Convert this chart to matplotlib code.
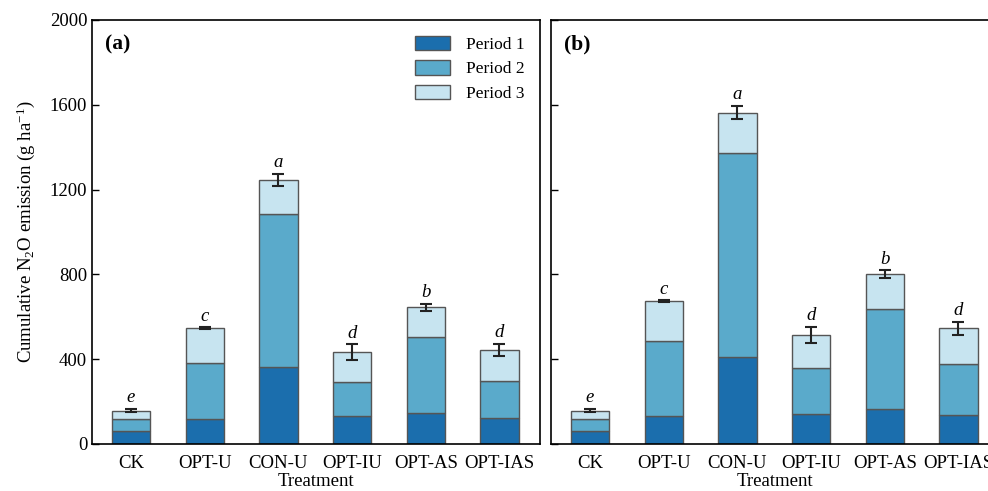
import numpy as np
import matplotlib
matplotlib.use("Agg")
import matplotlib.pyplot as plt

plt.rcParams['font.family'] = ['Liberation Serif', 'DejaVu Serif']
plt.rcParams['mathtext.fontset'] = 'custom'
plt.rcParams['mathtext.rm'] = 'Liberation Serif'
plt.rcParams['mathtext.it'] = 'Liberation Serif:italic'

treatments = ["CK", "OPT-U", "CON-U", "OPT-IU", "OPT-AS", "OPT-IAS"]
periods = ["Period 1", "Period 2", "Period 3"]
colors = ["#1b6ead", "#5aaacb", "#c7e4f0"]

# panel (a)
a_p1 = [60, 116, 365, 130, 146, 121]
a_p2 = [56, 264, 718, 162, 357, 176]
a_p3 = [41, 166, 162, 142, 142, 148]
a_err = [8, 5, 30, 37, 17, 28]
a_sig = ["e", "c", "a", "d", "b", "d"]

# panel (b)
b_p1 = [60, 130, 412, 143, 163, 137]
b_p2 = [56, 356, 961, 214, 475, 239]
b_p3 = [41, 188, 190, 157, 164, 170]
b_err = [8, 5, 32, 38, 17, 30]
b_sig = ["e", "c", "a", "d", "b", "d"]

fig = plt.figure(figsize=(9.88, 4.91), dpi=100)
W, H = 988, 491
axa = fig.add_axes([92 / W, 1 - 444 / H, 448 / W, 424 / H])
axb = fig.add_axes([551 / W, 1 - 444 / H, 448 / W, 424 / H])

x = np.arange(len(treatments))
fs = 13.5

for ax, p1, p2, p3, err, sig, tag in [
        (axa, a_p1, a_p2, a_p3, a_err, a_sig, "(a)"),
        (axb, b_p1, b_p2, b_p3, b_err, b_sig, "(b)")]:
    bottom = np.zeros(len(x))
    for vals, c, lab in zip([p1, p2, p3], colors, periods):
        ax.bar(x, vals, 0.52, bottom=bottom, color=c, edgecolor="#555555",
               linewidth=1, label=lab, zorder=2)
        bottom = bottom + np.array(vals)
    ax.errorbar(x, bottom, yerr=err, fmt="none", ecolor="#222222",
                elinewidth=1.5, capsize=4.5, capthick=1.5, zorder=3)
    for xi, t, e, s in zip(x, bottom, err, sig):
        ax.text(xi, t + e + 12, s, ha="center", va="bottom",
                fontsize=fs, style="italic")
    ax.set_xlim(-0.53, 5.55)
    ax.set_ylim(0, 2000)
    ax.set_yticks([0, 400, 800, 1200, 1600, 2000])
    ax.set_xticks(x)
    ax.set_xticklabels(treatments, fontsize=fs)
    ax.tick_params(axis="y", direction="in", length=5, width=1, labelsize=fs)
    ax.tick_params(axis="x", length=0, pad=8)
    ax.set_xlabel("Treatment", fontsize=fs, labelpad=1)
    for sp in ax.spines.values():
        sp.set_linewidth(1.2)
    ax.text(0.03, 0.965, tag, transform=ax.transAxes, fontsize=15.5,
            fontweight="bold", va="top", ha="left")

axb.set_yticklabels([])
axa.set_ylabel("Cumulative N$_2$O emission (g ha$^{-1}$)", fontsize=fs,
               labelpad=9)
axa.legend(loc="upper right", frameon=False, fontsize=12.5,
           handlelength=2.0, handleheight=0.9, labelspacing=0.42,
           borderaxespad=0.5, handletextpad=0.9)

fig.savefig("out.png", dpi=100)
